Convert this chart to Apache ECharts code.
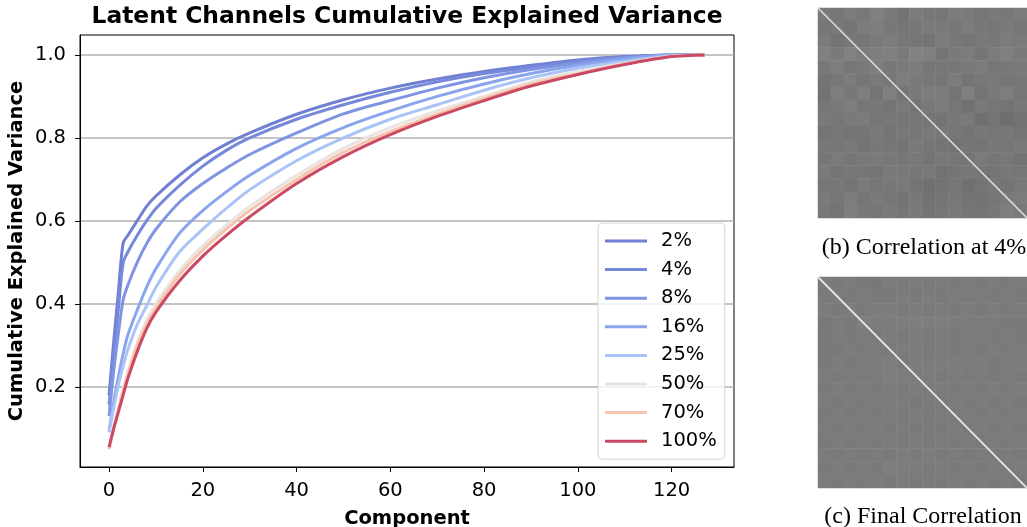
<!DOCTYPE html>
<html>
<head>
<meta charset="utf-8">
<style>
  html, body { margin: 0; padding: 0; background: #fff; }
  #chart { width: 1027px; height: 527px; }
</style>
<script src="https://cdn.jsdelivr.net/npm/echarts@6/dist/echarts.min.js"></script>
</head>
<body>
<div id="chart"></div>
<script>
var components = [0, 1, 2, 3, 4, 6, 8, 10, 15, 20, 25, 30, 40, 50, 60, 70, 80, 90, 100, 110, 120, 127];
var pct2 = [0.18, 0.31, 0.43, 0.547, 0.565, 0.6, 0.635, 0.66, 0.71, 0.752, 0.785, 0.812, 0.857, 0.892, 0.92, 0.942, 0.96, 0.975, 0.988, 0.996, 1, 1];
var pct4 = [0.157, 0.28, 0.39, 0.499, 0.525, 0.565, 0.6, 0.63, 0.685, 0.732, 0.77, 0.8, 0.845, 0.88, 0.91, 0.935, 0.955, 0.97, 0.985, 0.995, 1, 1];
var pct8 = [0.13, 0.24, 0.33, 0.41, 0.445, 0.5, 0.545, 0.58, 0.645, 0.69, 0.727, 0.76, 0.812, 0.858, 0.89, 0.92, 0.945, 0.965, 0.98, 0.993, 1, 1];
var pct16 = [0.094, 0.165, 0.225, 0.28, 0.325, 0.385, 0.44, 0.485, 0.57, 0.625, 0.67, 0.71, 0.775, 0.825, 0.865, 0.9, 0.93, 0.955, 0.975, 0.99, 1, 1];
var pct25 = [0.09, 0.15, 0.205, 0.25, 0.29, 0.35, 0.395, 0.44, 0.525, 0.58, 0.63, 0.675, 0.745, 0.8, 0.845, 0.88, 0.915, 0.945, 0.968, 0.985, 0.998, 1];
var pct50 = [0.05, 0.105, 0.15, 0.195, 0.235, 0.305, 0.36, 0.4, 0.48, 0.54, 0.59, 0.635, 0.71, 0.775, 0.825, 0.865, 0.9, 0.935, 0.96, 0.98, 0.997, 1];
var pct70 = [0.05, 0.1, 0.145, 0.19, 0.23, 0.3, 0.35, 0.39, 0.47, 0.53, 0.58, 0.625, 0.7, 0.765, 0.815, 0.857, 0.895, 0.93, 0.955, 0.978, 0.996, 1];
var pct100 = [0.055, 0.1, 0.14, 0.18, 0.22, 0.285, 0.34, 0.38, 0.455, 0.515, 0.565, 0.61, 0.69, 0.755, 0.808, 0.852, 0.89, 0.925, 0.953, 0.977, 0.996, 1];

var seriesNames = ["2%", "4%", "8%", "16%", "25%", "50%", "70%", "100%"];
var seriesValues = [pct2, pct4, pct8, pct16, pct25, pct50, pct70, pct100];
var seriesColors = ["#7080d2", "#7688da", "#7f94e2", "#8aa5ee", "#abc4f7", "#e9e4e1", "#f8c3ad", "#cb4a63"];

var xTicks = [0, 20, 40, 60, 80, 100, 120];
var yTicks = [0.2, 0.4, 0.6, 0.8, 1.0];

// coarse brightness of the two correlation images, read block by block
var corr4 = [
  [122, 118, 124, 120, 128, 122, 116, 124, 120, 118, 124, 122, 118, 122, 120, 124],
  [118, 122, 116, 124, 126, 120, 118, 120, 124, 122, 118, 124, 120, 118, 122, 118],
  [124, 116, 120, 118, 122, 124, 120, 118, 116, 124, 120, 118, 122, 120, 124, 122],
  [128, 122, 130, 124, 126, 128, 122, 130, 128, 116, 122, 124, 116, 124, 128, 122],
  [120, 126, 118, 122, 126, 120, 122, 124, 118, 120, 118, 122, 124, 118, 120, 122],
  [116, 120, 124, 118, 122, 118, 126, 122, 120, 118, 124, 116, 120, 122, 118, 120],
  [114, 126, 120, 126, 116, 128, 116, 122, 126, 124, 116, 128, 116, 122, 126, 118],
  [118, 122, 126, 118, 120, 116, 122, 116, 120, 124, 118, 114, 122, 118, 116, 120],
  [122, 118, 122, 124, 118, 120, 118, 120, 118, 116, 120, 122, 112, 116, 110, 114],
  [116, 120, 116, 118, 122, 116, 120, 118, 122, 120, 118, 116, 120, 118, 120, 116],
  [120, 118, 122, 116, 120, 118, 116, 122, 118, 116, 114, 118, 116, 120, 118, 122],
  [118, 122, 118, 120, 122, 120, 118, 120, 116, 120, 118, 116, 122, 118, 120, 116],
  [122, 116, 120, 118, 116, 122, 120, 118, 120, 114, 116, 120, 118, 116, 120, 118],
  [118, 120, 116, 122, 118, 120, 122, 116, 112, 114, 118, 112, 116, 120, 116, 120],
  [122, 118, 124, 118, 122, 118, 116, 120, 114, 116, 120, 116, 114, 118, 122, 124],
  [120, 116, 126, 120, 118, 122, 118, 122, 116, 118, 122, 118, 116, 120, 126, 122]
];
var corrFinal = [
  [124, 122, 124, 122, 120, 124, 122, 124, 122, 124, 122, 124, 122, 124, 122, 124],
  [122, 124, 122, 124, 122, 122, 124, 122, 124, 122, 124, 122, 124, 122, 124, 122],
  [124, 122, 124, 122, 124, 124, 122, 124, 122, 124, 122, 124, 122, 124, 122, 124],
  [120, 124, 122, 126, 124, 124, 126, 126, 126, 126, 124, 124, 124, 124, 122, 122],
  [122, 124, 122, 124, 122, 124, 122, 124, 122, 124, 122, 122, 124, 122, 124, 122],
  [122, 122, 124, 122, 124, 122, 124, 124, 122, 124, 122, 124, 122, 124, 122, 124],
  [122, 124, 122, 124, 124, 126, 122, 124, 124, 124, 124, 124, 124, 122, 124, 124],
  [124, 122, 124, 122, 124, 126, 124, 122, 124, 122, 124, 122, 124, 122, 124, 122],
  [122, 124, 122, 124, 122, 124, 122, 124, 122, 124, 122, 124, 122, 124, 122, 124],
  [124, 122, 124, 122, 124, 124, 124, 122, 124, 122, 124, 122, 124, 122, 124, 122],
  [122, 124, 122, 124, 122, 124, 122, 124, 122, 124, 122, 124, 122, 124, 122, 124],
  [124, 122, 124, 122, 124, 122, 124, 122, 124, 122, 124, 122, 124, 122, 124, 122],
  [122, 124, 122, 124, 122, 124, 122, 124, 122, 124, 122, 124, 122, 124, 122, 124],
  [124, 122, 124, 122, 124, 122, 124, 122, 124, 122, 124, 122, 124, 122, 124, 122],
  [122, 124, 122, 124, 122, 126, 124, 124, 122, 124, 122, 124, 122, 124, 122, 124],
  [124, 122, 124, 122, 124, 122, 124, 122, 124, 122, 124, 122, 124, 122, 124, 122]
];
var diagonal = [[0, 0], [127, 127]];

var sans = "DejaVu Sans";
var serif = "Liberation Serif";
var myChart = echarts.init(document.getElementById("chart"), null, { renderer: "canvas" });

function toCells(matrix) {
  var cells = [];
  matrix.forEach(function (row, r) {
    row.forEach(function (v, c) {
      cells.push([c, r, v]);
    });
  });
  return cells;
}

function imageAxes(gridIndex) {
  return {
    x: [
      { gridIndex: gridIndex, type: "category", show: false, data: corr4.map(function (_, i) { return i; }) },
      { gridIndex: gridIndex, type: "value", show: false, min: 0, max: 127 }
    ],
    y: [
      { gridIndex: gridIndex, type: "category", show: false, inverse: true, data: corr4.map(function (_, i) { return i; }) },
      { gridIndex: gridIndex, type: "value", show: false, min: 0, max: 127, inverse: true }
    ]
  };
}

var img1 = imageAxes(1);
var img2 = imageAxes(2);

var series = seriesNames.map(function (name, i) {
  return {
    name: name,
    type: "line",
    xAxisIndex: 0,
    yAxisIndex: 0,
    showSymbol: false,
    symbol: "none",
    smooth: 0.3,
    animation: false,
    lineStyle: { width: 3, color: seriesColors[i] },
    itemStyle: { color: seriesColors[i] },
    z: 3 + i,
    data: components.map(function (c, j) { return [c, seriesValues[i][j]]; })
  };
});

series.push(
  { type: "heatmap", xAxisIndex: 1, yAxisIndex: 1, data: toCells(corr4), animation: false },
  { type: "line", xAxisIndex: 2, yAxisIndex: 2, data: diagonal, showSymbol: false, symbol: "none", animation: false, lineStyle: { color: "#dcdcdc", width: 1.6 }, z: 5 },
  { type: "heatmap", xAxisIndex: 3, yAxisIndex: 3, data: toCells(corrFinal), animation: false },
  { type: "line", xAxisIndex: 4, yAxisIndex: 4, data: diagonal, showSymbol: false, symbol: "none", animation: false, lineStyle: { color: "#e4e4e4", width: 1.8 }, z: 5 }
);

var option = {
  backgroundColor: "#ffffff",
  animation: false,
  title: [
    { text: "Latent Channels Cumulative Explained Variance", left: 402, top: 0, textAlign: "center", textStyle: { fontFamily: sans, fontWeight: "bold", fontSize: 23.4, color: "#000" } },
    { text: "(b) Correlation at 4%", left: 919, top: 231, textAlign: "center", textStyle: { fontFamily: serif, fontWeight: "normal", fontSize: 24, color: "#000" } },
    { text: "(c) Final Correlation", left: 918, top: 500, textAlign: "center", textStyle: { fontFamily: serif, fontWeight: "normal", fontSize: 24, color: "#000" } }
  ],
  grid: [
    { left: 80, top: 35, width: 654, height: 432, outerBoundsMode: "none", show: true, borderColor: "#000", borderWidth: 1, backgroundColor: "transparent" },
    { left: 818, top: 8, width: 209, height: 210, outerBoundsMode: "none" },
    { left: 818, top: 277, width: 209, height: 211, outerBoundsMode: "none" }
  ],
  legend: {
    data: seriesNames,
    orient: "vertical",
    left: 598,
    top: 223,
    padding: [8, 8, 8, 7],
    icon: "rect",
    itemWidth: 42,
    itemHeight: 3,
    itemGap: 8.6,
    backgroundColor: "rgba(255,255,255,0.8)",
    borderColor: "#d4d4d4",
    borderWidth: 1,
    borderRadius: 4,
    textStyle: { fontFamily: sans, fontSize: 19.5, color: "#000", padding: [0, 0, 0, 9] }
  },
  xAxis: [
    {
      gridIndex: 0,
      type: "value",
      min: -6.2,
      max: 133.3,
      name: "Component",
      nameLocation: "middle",
      nameGap: 42,
      nameTextStyle: { fontFamily: sans, fontWeight: "bold", fontSize: 19.5, color: "#000" },
      axisLine: { show: true, onZero: false, lineStyle: { color: "#000", width: 1 } },
      axisTick: { show: true, length: 5, lineStyle: { color: "#000" }, customValues: xTicks },
      axisLabel: { fontFamily: sans, fontSize: 19.5, color: "#000", margin: 14, customValues: xTicks },
      splitLine: { show: false }
    }
  ].concat(img1.x, img2.x),
  yAxis: [
    {
      gridIndex: 0,
      type: "value",
      min: 0.007,
      max: 1.048,
      name: "Cumulative Explained Variance",
      nameLocation: "middle",
      nameRotate: 90,
      nameGap: 53,
      nameMoveOverlap: false,
      nameTextStyle: { fontFamily: sans, fontWeight: "bold", fontSize: 19.5, color: "#000" },
      axisLine: { show: true, onZero: false, lineStyle: { color: "#000", width: 1 } },
      axisTick: { show: true, length: 5, lineStyle: { color: "#000" }, customValues: yTicks },
      axisLabel: {
        fontFamily: sans, fontSize: 19.5, color: "#000", margin: 14, customValues: yTicks,
        formatter: function (v) { return v.toFixed(1); }
      },
      splitLine: { show: true, lineStyle: { color: "#b0b0b0", width: 1.5 } }
    }
  ].concat(img1.y, img2.y),
  visualMap: {
    show: false,
    type: "continuous",
    seriesIndex: [8, 10],
    dimension: 2,
    min: 0,
    max: 255,
    inRange: { color: ["#000000", "#ffffff"] }
  },
  series: series
};

myChart.setOption(option);
</script>
</body>
</html>
